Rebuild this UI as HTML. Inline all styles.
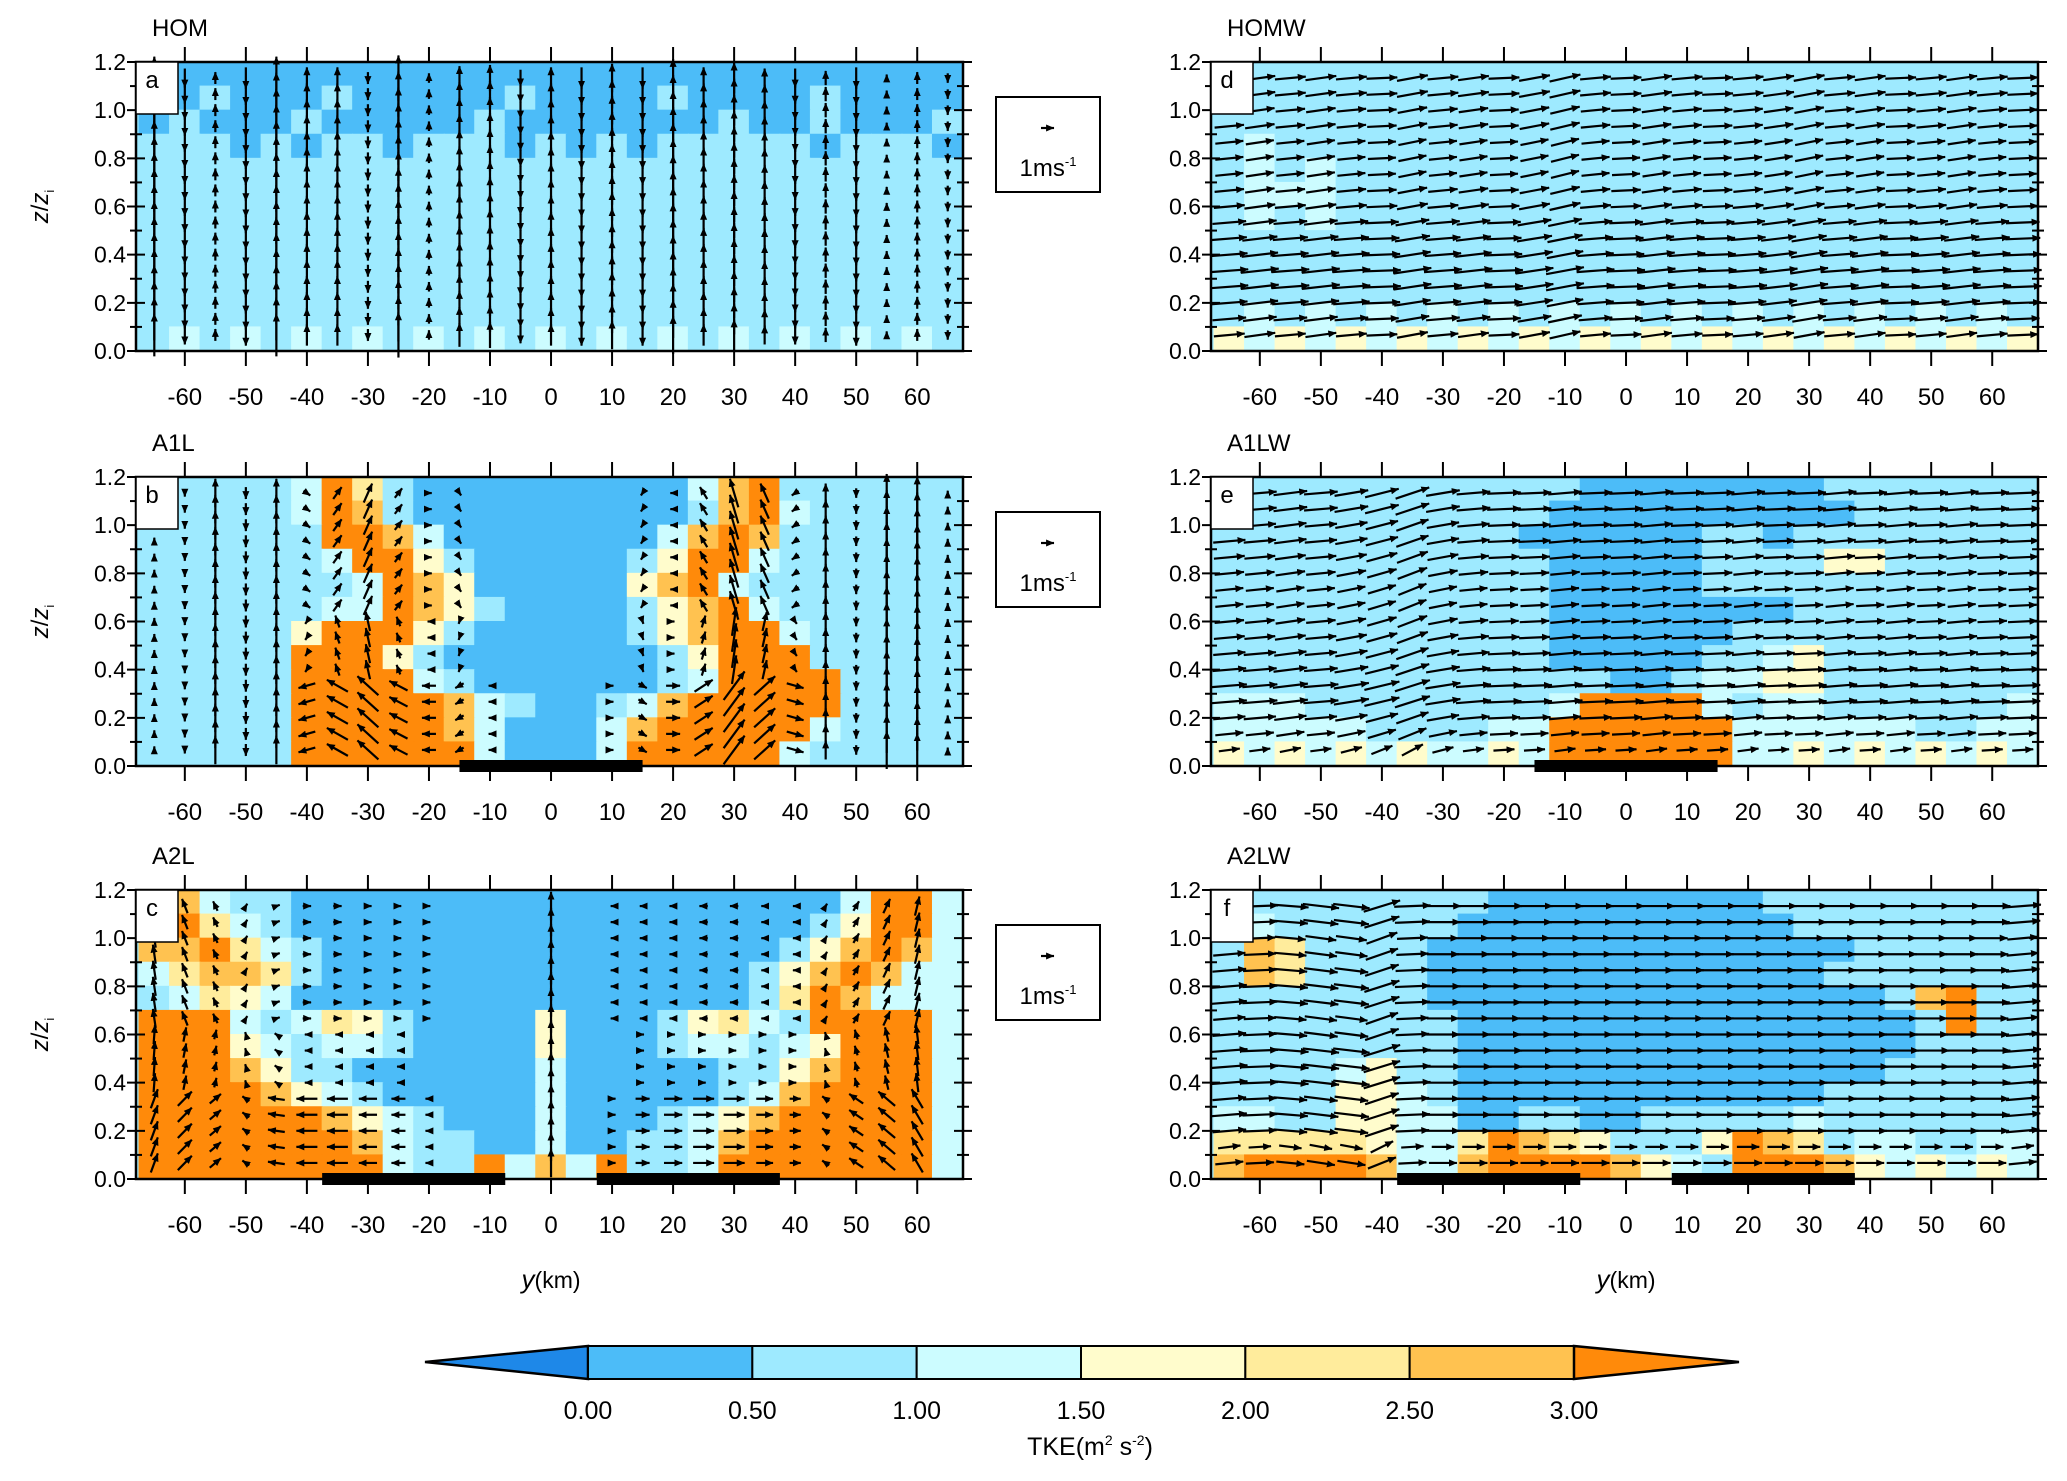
<!DOCTYPE html>
<html><head><meta charset="utf-8"><style>
html,body{margin:0;padding:0;background:#fff;}
svg{display:block;font-family:"Liberation Sans",sans-serif;}
</style></head><body>
<svg id="fig" width="2067" height="1481" viewBox="0 0 2067 1481" xmlns="http://www.w3.org/2000/svg">
<defs><marker id="ah" markerWidth="4" markerHeight="4" refX="3.6" refY="2" orient="auto" markerUnits="strokeWidth"><path d="M0,0.4 L3.8,2 L0,3.6 Z" fill="#000"/></marker></defs>
</svg>
<script>
// ---------- data ----------
const levelBounds = ["0.00","0.50","1.00","1.50","2.00","2.50","3.00"];
const levelColors = ["#1e88e8","#4cbcf8","#9eeaff","#ccfcff","#fffccc","#ffec9c","#ffc250","#ff8a0a"];
const panelNames = ["HOM","A1L","A2L","HOMW","A1LW","A2LW"];
const panelLetters = ["a","b","c","d","e","f"];
const xTicks = [-60,-50,-40,-30,-20,-10,0,10,20,30,40,50,60];
const yTicks = [0.0,0.2,0.4,0.6,0.8,1.0,1.2];
const arrowCols = [-65,-60,-55,-50,-45,-40,-35,-30,-25,-20,-15,-10,-5,0,5,10,15,20,25,30,35,40,45,50,55,60,65];
const landB = [[-15,15]];
const landC = [[-37.5,-7.5],[7.5,37.5]];
const tkeA = ["111111111111111111111111111","112111211111211112111121111","121112111112111111121121112","222121221222121212222212221","222222222222222222222222222","222222222222222222222222222","222222222222222222222222222","222222222222222222222222222","222222222222222222222222222","222222222222222222222222222","222222222222222222222222222","232323232323232323232323232"];
const tkeB = ["222223752111111111367222222","222223762111111111267322222","222222776311111113676222222","222222377421111124773222222","222222237641111146732222222","222222337642111124673222222","222224777421111124677322222","222227774211111112477722222","222227777321111112377772222","222227777763211236777772222","222227777763111367777732222","222227777773111377777322222"];
const tkeC = ["763221111111111111111113773","775321111111111111111124773","667532111111111111111246763","356652111111111111112467633","235431111111111111112576333","777323542111141112453277773","777432332111141112332347773","777642211111131111122467773","777764321111131111123677773","777777643211131112346777773","777777763221131122367777773","777777773227363722377777773"];
const tkeD = ["222222222222222222222222222","222222222222222222222222222","222222222222222222222222222","232222222222222222222222222","232322222222222222222222222","233322222222222222222222222","232322222222222222222222222","222222222222222222222222222","222222222222222222222222222","222222222222222222222222222","232323232323232323232323232","434343434343434343434343434"];
const tkeE = ["222222222222111111112222222","222222222221111111111222222","222222222211111122122222222","222222222221111122224422222","222222222221111122222222222","222222222221111111122222222","222222222221111112222222222","222222222221111122342222222","222222222222211233442222222","333222222223777732332222223","333332222337777773333332233","434343433437777773343434343"];
const tkeF = ["222222222111111111222222222","232222221111111111122222222","265222211111111111111222222","265222211111111111112222222","222222211111111111111126722","222222221111111111111112722","222222221111111111111112222","222234221111111111111122222","222244321111111111112222222","332244331122112222232222222","555554335765422247652332233","677776336777764327776434343"];
// arrows (m/s): u per column (left panels) or per row (right panels), w per column
const wColA = [1.8,-0.8,0.5,-0.9,1.8,0.9,0.9,-0.5,1.9,0.4,1.0,1.1,-0.7,0.9,-0.9,1.2,-0.9,1.6,0.9,1.3,0.8,-0.8,0.6,-0.9,0.3,0.5,-0.4];
const uColA = [0,0,0,0,0,0,0,0,0,0,0,0,0,0,0,0,0,0,0,0,0,0,0,0,0,0,0];
const wColB = [0.3,-0.3,1.2,-0.5,1.2,-0.2,0.5,0.8,0.4,0,-0.2,0,0,0,0,0,-0.2,0,0.5,1.2,0.8,-0.2,0.8,-0.4,1.6,1.4,0.2];
const uColB = [0,0,0,0,0,-1.2,-1.5,-1.5,-1.3,-1.0,-0.6,-0.2,0,0,0,0.2,0.6,1.0,1.3,1.5,1.5,1.2,0,0,0,0,0];
const wColC = [0.8,0.6,0.4,0.2,0.1,0,0,0,0,0,0,0,0,1.2,0,0,0,0,0,0,0,0,0.2,0.4,0.6,0.8,0];
const uColC = [0.5,1.0,0.8,-0.5,-1.2,-1.5,-1.5,-1.3,-1.0,-0.5,0,0,0,0,0,0.5,1.0,1.3,1.5,1.5,1.2,0.8,-0.5,-1.0,-1.2,-0.8,0];
const wColD = [0.2,0.3,0.2,0.3,0.2,0.1,0.4,0.2,0.3,0.1,0.4,0.5,0.2,0.1,0.3,0.2,0.1,0.2,0.3,0.4,0.2,0.3,0.1,0.2,0.3,0.2,0.1];
const uRowD = [2.2,2.4,2.6,2.7,2.7,2.6,2.5,2.4,2.2,2.1,2.0,2.0,2.0,2.1,2.1,2.2,2.2];
const wColE = [0.2,0.2,0.3,0.2,0.4,0.6,0.8,0.4,0.2,0.1,0.1,0.2,0.1,0.1,0.2,0.1,0.1,0.2,0.1,0.1,0.2,0.1,0.2,0.1,0.2,0.1,0.1];
const uRowE = [1.5,2.0,2.3,2.5,2.5,2.4,2.3,2.2,2.1,2.0,2.0,2.1,2.2,2.3,2.3,2.4,2.4];
const wColF = [0.2,0.1,-0.2,-0.3,-0.3,0.8,0.1,0,0,0,0,0,0,0,0,0,0,0,0,0,0,0,0,0,0,0,0.2];
const uRowF = [2.0,1.6,2.4,2.5,2.4,2.6,2.6,2.6,2.4,2.3,2.5,2.5,2.4,2.3,2.2,2.5,2.6];

// ---------- layout ----------
const NS="http://www.w3.org/2000/svg";
const svg=document.getElementById('fig');
const PW=827, PH=289, XMIN=-68, XMAX=67.5, ZMAX=1.2;
const colX=[136,1211], rowY=[62,477,890];
function mk(tag,attrs,parent){const e=document.createElementNS(NS,tag);for(const k in attrs)e.setAttribute(k,attrs[k]);(parent||svg).appendChild(e);return e;}
function txt(s,attrs,parent){const e=mk('text',attrs,parent);e.textContent=s;return e;}

const panels=[
 {tke:tkeA,w:wColA,u:uColA,uRow:null,land:[]},
 {tke:tkeB,w:wColB,u:uColB,uRow:null,land:landB},
 {tke:tkeC,w:wColC,u:uColC,uRow:null,land:landC},
 {tke:tkeD,w:wColD,u:null,uRow:uRowD,land:[]},
 {tke:tkeE,w:wColE,u:null,uRow:uRowE,land:landB},
 {tke:tkeF,w:wColF,u:null,uRow:uRowF,land:landC}
];
const SC=14; // px per m/s

panels.forEach((p,i)=>{
  const px=colX[Math.floor(i/3)], py=rowY[i%3];
  const X=km=>px+(km-XMIN)/(XMAX-XMIN)*PW;
  const Y=z=>py+PH*(1-z/ZMAX);
  const g=mk('g',{});
  
  
  const clip=mk('clipPath',{id:'clip'+i},g);
  mk('rect',{x:px,y:py,width:PW,height:PH},clip);
  const field=mk('g',{'clip-path':'url(#clip'+i+')'},g);
  
  
  mk('rect',{x:px,y:py,width:PW,height:PH,fill:levelColors[2]},field);
  const nr=p.tke.length;
  p.tke.forEach((row,r)=>{
    const z1=ZMAX*(nr-r)/nr, z0=ZMAX*(nr-r-1)/nr;
    for(let c=0;c<27;c++){
      const ch=row[Math.min(c,row.length-1)];
      const k0=-67.5+5*c;
      const cell=mk('rect',{x:X(k0)-0.5,y:Y(z1)-0.5,width:X(k0+5)-X(k0)+1,height:Y(z0)-Y(z1)+1,fill:levelColors[+ch]},field);
      
      
    }
  });
  // arrows
  const ag=mk('g',{stroke:'#000','stroke-width':2.2,fill:'none'},g);
  
  
  const nz=p.uRow?p.uRow.length:17;
  for(let r=0;r<nz;r++){
    const z=(r+1)*ZMAX/(nz+1);
    arrowCols.forEach((km,c)=>{
      let u=p.uRow?p.uRow[r]:p.u[c]*(z<0.35?1:(z>0.6?-0.4:0.2));
      let w=p.w[c];
      const dx=u*SC, dy=-w*SC*(p.uRow?1:1.7);
      const cx=X(km), cy=Y(z);
      if(Math.abs(dx)+Math.abs(dy)<2) return;
      const a=mk('line',{x1:cx-dx/2,y1:cy-dy/2,x2:cx+dx/2,y2:cy+dy/2,'marker-end':'url(#ah)'},ag);
      
      
    });
  }
  // land bars
  p.land.forEach(l=>{
    const b=mk('rect',{x:X(l[0]),y:Y(0)-6,width:X(l[1])-X(l[0]),height:12,fill:'#000'},g);
    
    
  });
  // frame
  const fr=mk('rect',{x:px,y:py,width:PW,height:PH,fill:'none',stroke:'#000','stroke-width':2.5},g);
  
  
  // x ticks
  xTicks.forEach(t=>{
    mk('line',{x1:X(t),x2:X(t),y1:Y(0),y2:Y(0)+15,stroke:'#000','stroke-width':2},g);
    mk('line',{x1:X(t),x2:X(t),y1:py,y2:py-15,stroke:'#000','stroke-width':2},g);
    const l=txt(String(t),{x:X(t),y:py+PH+54,'font-size':24,'text-anchor':'middle'},g);
    
    
  });
  for(let k=0;k<=12;k++){
    const z=k*0.1, len=(k%2==0)?9:6;
    mk('line',{x1:px-len,x2:px+len,y1:Y(z),y2:Y(z),stroke:'#000','stroke-width':2},g);
    mk('line',{x1:px+PW-len,x2:px+PW+len,y1:Y(z),y2:Y(z),stroke:'#000','stroke-width':2},g);
  }
  yTicks.forEach(t=>{
    const l=txt(t.toFixed(1),{x:px-10,y:Y(t)+8,'font-size':23,'text-anchor':'end'},g);
    
    
  });
  // letter box
  const lb=mk('rect',{x:px,y:py,width:42,height:52,fill:'#fff',stroke:'#000','stroke-width':1.5},g);
  
  
  const lt=txt(panelLetters[i],{x:px+16,y:py+26,'font-size':24,'text-anchor':'middle'},g);
  
  
  const tt=txt(panelNames[i],{x:px+16,y:py-26,'font-size':24},g);
  
  
  if(i<3){
    const yt=mk('text',{transform:'translate(48,'+(py+PH/2)+') rotate(-90)','font-size':24,'text-anchor':'middle'},g);
    yt.innerHTML='<tspan font-style="italic">z</tspan>/<tspan font-style="italic">z</tspan><tspan font-size="13" dy="6">i</tspan>';
    
    
    // reference vector key
    const kb=mk('g',{},g);
    
    
    mk('rect',{x:996,y:py+35,width:104,height:95,fill:'#fff',stroke:'#000','stroke-width':2},kb);
    mk('line',{x1:1041,x2:1054,y1:py+66,y2:py+66,stroke:'#000','stroke-width':2.2,'marker-end':'url(#ah)'},kb);
    const kt=mk('text',{x:1048,y:py+114,'font-size':24,'text-anchor':'middle'},kb);
    kt.innerHTML='1ms<tspan font-size="13" dy="-10">-1</tspan>';
  }
  if(i%3==2){
    const xt=mk('text',{x:X(0),y:1288,'font-size':26,'text-anchor':'middle'},g);
    xt.innerHTML='<tspan font-style="italic">y</tspan><tspan font-size="23">(km)</tspan>';
    
    
  }
});

// colorbar
const cb=mk('g',{});


const CB0=588, CBT=1346, CBB=1379;
const segW=(1574-588)/6;
mk('polygon',{points:`425,1362 ${CB0},${CBT} ${CB0},${CBB}`,fill:levelColors[0],stroke:'#000','stroke-width':2.5},cb);
for(let k=1;k<=6;k++){
  const s=mk('rect',{x:CB0+(k-1)*segW,y:CBT,width:segW,height:CBB-CBT,fill:levelColors[k],stroke:'#000','stroke-width':2},cb);
  
  
}
mk('polygon',{points:`1574,${CBT} 1739,1362 1574,${CBB}`,fill:levelColors[7],stroke:'#000','stroke-width':2.5},cb);
levelBounds.forEach((b,k)=>{
  const l=txt(b,{x:CB0+k*segW,y:1419,'font-size':25,'text-anchor':'middle'},cb);
  
  
});
const ct=mk('text',{x:1090,y:1455,'font-size':25,'text-anchor':'middle'},cb);
ct.innerHTML='TKE(m<tspan font-size="14" dy="-10">2</tspan><tspan dy="10"> s</tspan><tspan font-size="14" dy="-10">-2</tspan><tspan dy="10">)</tspan>';


</script>
</body></html>
